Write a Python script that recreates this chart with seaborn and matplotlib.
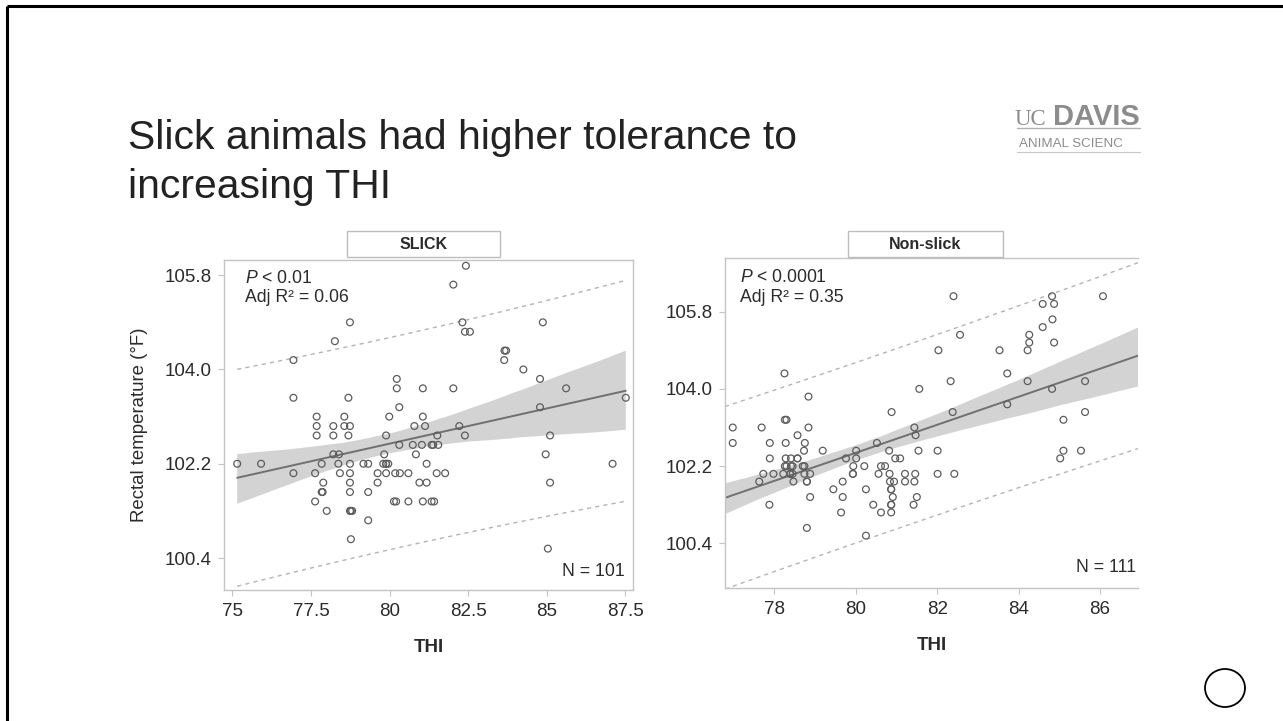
import numpy as np
import pandas as pd
import matplotlib
matplotlib.use("Agg")
import matplotlib.pyplot as plt
from matplotlib.patches import Rectangle, Ellipse
from matplotlib.lines import Line2D
from matplotlib.collections import PolyCollection
import seaborn as sns

# ---------------- data ----------------
slick_thi = [78.74, 78.26, 76.94, 80.23, 80.23, 81.06, 76.94, 78.69, 80.31, 77.68,
             78.56, 79.99, 81.06, 77.68, 78.21, 78.56, 78.74, 80.79, 81.13, 77.68,
             78.21, 78.69, 79.89, 80.31, 80.74, 81.03, 81.34, 78.21, 78.39, 79.83,
             80.84, 75.15, 75.91, 77.84, 78.37, 78.74, 79.17, 79.32, 79.80, 79.89,
             79.96, 81.18, 76.94, 77.63, 78.42, 78.74, 79.62, 79.89, 80.18, 80.33,
             80.60, 80.95, 81.18, 77.89, 78.74, 79.62, 77.84, 77.87, 78.74, 79.32,
             77.63, 80.14, 80.21, 80.60, 81.06, 81.34, 78.00, 78.74, 78.81, 79.32,
             78.77, 82.43, 82.03, 82.32, 82.40, 82.56, 84.88, 83.66, 83.71, 83.65,
             84.26, 84.79, 82.03, 85.62, 87.52, 84.79, 82.22, 81.52, 82.40, 85.11,
             81.39, 81.55, 84.97, 87.10, 81.50, 81.77, 85.11, 81.42, 85.04, 79.89,
             78.77]
slick_rt = [104.90, 104.54, 104.18, 103.82, 103.64, 103.64, 103.46, 103.46, 103.28, 103.10,
            103.10, 103.10, 103.10, 102.92, 102.92, 102.92, 102.92, 102.92, 102.92, 102.74,
            102.74, 102.74, 102.74, 102.56, 102.56, 102.56, 102.56, 102.38, 102.38, 102.38,
            102.38, 102.20, 102.20, 102.20, 102.20, 102.20, 102.20, 102.20, 102.20, 102.20,
            102.20, 102.20, 102.02, 102.02, 102.02, 102.02, 102.02, 102.02, 102.02, 102.02,
            102.02, 101.84, 101.84, 101.84, 101.84, 101.84, 101.66, 101.66, 101.66, 101.66,
            101.48, 101.48, 101.48, 101.48, 101.48, 101.48, 101.30, 101.30, 101.30, 101.12,
            100.76, 105.98, 105.62, 104.90, 104.72, 104.72, 104.90, 104.36, 104.36, 104.18,
            104.00, 103.82, 103.64, 103.64, 103.46, 103.28, 102.92, 102.74, 102.74, 102.74,
            102.56, 102.56, 102.38, 102.20, 102.02, 102.02, 101.84, 101.48, 100.58, 102.20,
            101.30]

nonslick_thi = [78.25, 78.84, 78.26, 78.30, 80.88, 76.98, 77.69, 78.84, 81.44, 78.57,
                76.98, 77.89, 78.28, 78.75, 80.52, 78.73, 79.19, 80.01, 80.82, 77.89,
                78.28, 78.41, 78.57, 79.76, 80.01, 80.97, 81.09, 78.26, 78.41, 78.70,
                79.94, 80.21, 80.62, 80.72, 77.73, 77.98, 78.22, 78.39, 78.45, 78.74,
                78.88, 79.93, 80.56, 80.83, 81.21, 81.46, 77.63, 78.47, 78.80, 79.68,
                80.84, 80.94, 81.21, 81.44, 79.45, 80.25, 80.87, 78.88, 79.68, 80.91,
                81.50, 77.88, 80.43, 80.87, 81.42, 79.64, 80.62, 80.87, 78.80, 80.25,
                82.40, 84.82, 86.07, 84.59, 84.87, 84.83, 84.59, 82.56, 84.26, 84.26,
                84.87, 82.03, 83.53, 84.22, 83.72, 81.56, 82.33, 84.22, 84.82, 85.63,
                82.38, 83.72, 85.63, 85.10, 81.47, 81.54, 82.01, 85.10, 85.53, 85.02,
                82.01, 82.42, 78.39, 78.45, 78.57, 78.30, 79.93, 80.87, 80.87, 78.80,
                78.74]
nonslick_rt = [104.36, 103.82, 103.28, 103.28, 103.46, 103.10, 103.10, 103.10, 103.10, 102.92,
               102.74, 102.74, 102.74, 102.74, 102.74, 102.56, 102.56, 102.56, 102.56, 102.38,
               102.38, 102.38, 102.38, 102.38, 102.38, 102.38, 102.38, 102.20, 102.20, 102.20,
               102.20, 102.20, 102.20, 102.20, 102.02, 102.02, 102.02, 102.02, 102.02, 102.02,
               102.02, 102.02, 102.02, 102.02, 102.02, 102.02, 101.84, 101.84, 101.84, 101.84,
               101.84, 101.84, 101.84, 101.84, 101.66, 101.66, 101.66, 101.48, 101.48, 101.48,
               101.48, 101.30, 101.30, 101.30, 101.30, 101.12, 101.12, 101.12, 100.76, 100.58,
               106.16, 106.16, 106.16, 105.98, 105.98, 105.62, 105.44, 105.26, 105.26, 105.08,
               105.08, 104.90, 104.90, 104.90, 104.36, 104.00, 104.18, 104.18, 104.00, 104.18,
               103.46, 103.64, 103.46, 103.28, 102.92, 102.56, 102.56, 102.56, 102.56, 102.38,
               102.02, 102.02, 102.02, 102.20, 102.38, 102.20, 102.02, 101.66, 101.30, 101.84,
               102.20]

panel_titles = ["SLICK", "Non-slick"]
p_texts = ["< 0.01", "< 0.0001"]
r2_texts = ["0.06", "0.35"]
n_texts = ["N = 101", "N = 111"]
y_ticks = [100.4, 102.2, 104.0, 105.8]
y_ticklabels = ["100.4", "102.2", "104.0", "105.8"]
slick_xticks = [75, 77.5, 80, 82.5, 85, 87.5]
slick_xticklabels = ["75", "77.5", "80", "82.5", "85", "87.5"]
nonslick_xticks = [78, 80, 82, 84, 86]
nonslick_xticklabels = ["78", "80", "82", "84", "86"]
title_lines = ["Slick animals had higher tolerance to", "increasing THI"]
x_label = "THI"
y_label = "Rectal temperature (°F)"

# ---------------- style ----------------
sns.set_theme(style="white")
plt.rcParams["font.family"] = ["Liberation Sans", "DejaVu Sans"]
plt.rcParams["mathtext.fontset"] = "custom"
plt.rcParams["mathtext.rm"] = "Liberation Sans"
plt.rcParams["mathtext.it"] = "Liberation Sans:italic"

W, H = 1283, 721
fig = plt.figure(figsize=(W / 100, H / 100), dpi=100)
fig.patch.set_facecolor("white")


def fx(px):
    return px / W


def fy(py):
    return 1 - py / H


SPINE = "#c4c4c4"
TXT = "#2b2b2b"
PT = "#5c5c5c"
LINE = "#707070"
BAND = "#d3d3d3"
DASH = "#b4b4b4"


def panel(rect, thi, rt, xlim, ylim, xticks, xticklabels, truncate):
    ax = fig.add_axes(rect)
    ax.set_xlim(xlim)
    ax.set_ylim(ylim)
    df = pd.DataFrame({"THI": thi, "RT": rt})
    sns.regplot(data=df, x="THI", y="RT", ax=ax, ci=95, n_boot=2000, seed=11,
                truncate=truncate, color=LINE,
                scatter_kws=dict(s=24, facecolors="none", edgecolors=PT,
                                 linewidths=0.9, alpha=1, zorder=3),
                line_kws=dict(color=LINE, lw=1.4, zorder=2))
    for c in ax.collections:
        if isinstance(c, PolyCollection):
            c.set_facecolor(BAND)
            c.set_alpha(1)
            c.set_edgecolor("none")
            c.set_zorder(1)
    # 95% prediction limits computed from the same data
    xv = np.asarray(thi, float)
    yv = np.asarray(rt, float)
    n = len(xv)
    b1, b0 = np.polyfit(xv, yv, 1)
    s = np.sqrt(((yv - (b0 + b1 * xv)) ** 2).sum() / (n - 2))
    lo, hi = (xv.min(), xv.max()) if truncate else xlim
    xg = np.linspace(lo, hi, 100)
    se = s * np.sqrt(1 + 1 / n + (xg - xv.mean()) ** 2 / ((xv - xv.mean()) ** 2).sum())
    t = 1.984
    yhat = b0 + b1 * xg
    for sign in (1, -1):
        ax.plot(xg, yhat + sign * t * se, ls=(0, (3, 3)), color=DASH, lw=1.0, zorder=2)
    ax.set_xlim(xlim)
    ax.set_ylim(ylim)
    ax.set_xticks(xticks)
    ax.set_xticklabels(xticklabels)
    ax.set_yticks(y_ticks)
    ax.set_yticklabels(y_ticklabels)
    ax.tick_params(axis="both", which="both", length=4, width=0.8, color=SPINE,
                   labelsize=13.5, labelcolor=TXT, pad=5, bottom=True, left=True)
    for sp in ax.spines.values():
        sp.set_color(SPINE)
        sp.set_linewidth(1.0)
    ax.set_xlabel(x_label, fontsize=13.5, fontweight="bold", color=TXT, labelpad=14)
    ax.set_ylabel("")
    return ax


ax1 = panel([fx(224), fy(590), (633 - 224) / W, 330 / H], slick_thi, slick_rt,
            (74.73, 87.75), (99.79, 106.09), slick_xticks, slick_xticklabels, True)
ax2 = panel([fx(725), fy(588), (1138 - 725) / W, 330 / H], nonslick_thi, nonslick_rt,
            (76.79, 86.93), (99.36, 107.05), nonslick_xticks, nonslick_xticklabels, False)
ax2.spines["right"].set_visible(False)

ax1.set_ylabel(y_label, fontsize=13.4, color=TXT, labelpad=12)

# stats annotations
for ax, xp, yp1, yp2, pt, r2, nt, xn, yn in [
        (ax1, 0.051, 0.945, 0.885, p_texts[0], r2_texts[0], n_texts[0], 0.98, 0.055),
        (ax2, 0.036, 0.94, 0.88, p_texts[1], r2_texts[1], n_texts[1], 0.995, 0.061)]:
    ax.text(xp, yp1, r"$\mathit{P}$ " + pt, transform=ax.transAxes, fontsize=12.7,
            color=TXT, va="center", ha="left")
    ax.text(xp, yp2, "Adj R² = " + r2, transform=ax.transAxes, fontsize=12.7,
            color=TXT, va="center", ha="left")
    ax.text(xn, yn, nt, transform=ax.transAxes, fontsize=12.7, color=TXT,
            va="center", ha="right")

# strip title boxes
for (x0, x1), label in zip([(347, 500), (848, 1003)], panel_titles):
    fig.add_artist(Rectangle((fx(x0), fy(257)), (x1 - x0) / W, 26 / H,
                             transform=fig.transFigure, facecolor="white",
                             edgecolor="#bdbdbd", lw=1.0))
    fig.text(fx((x0 + x1) / 2), fy(244), label, ha="center", va="center",
             fontsize=11.5, fontweight="bold", color=TXT)

# slide title
fig.text(fx(128), fy(149), title_lines[0], fontsize=29.4, color="#222222",
         ha="left", va="baseline")
fig.text(fx(128), fy(198), title_lines[1], fontsize=29.4, color="#222222",
         ha="left", va="baseline")

# logo (text rendition)
LOGO = "#8c8c8c"
fig.text(fx(1015), fy(125), "UC", fontsize=16.5, color=LOGO, family="Liberation Serif",
         ha="left", va="baseline")
fig.text(fx(1140), fy(125), "DAVIS", fontsize=21, color=LOGO, fontweight="bold",
         ha="right", va="baseline")
fig.text(fx(1019), fy(147), "ANIMAL SCIENC", fontsize=9.6, color=LOGO,
         ha="left", va="baseline")
fig.add_artist(Line2D([fx(1017), fx(1140)], [fy(128), fy(128)], color="#b0b0b0",
                      lw=1.0, transform=fig.transFigure))
fig.add_artist(Line2D([fx(1017), fx(1140)], [fy(152), fy(152)], color="#c8c8c8",
                      lw=0.8, transform=fig.transFigure))

# slide frame and nav circle
fig.add_artist(Line2D([fx(7), fx(W)], [fy(6), fy(6)], color="black", lw=2.2,
                      transform=fig.transFigure, solid_capstyle="butt"))
fig.add_artist(Line2D([fx(7), fx(7)], [fy(6), fy(H)], color="black", lw=2.2,
                      transform=fig.transFigure, solid_capstyle="butt"))
fig.add_artist(Ellipse((fx(1225), fy(688)), 40 / W, 38 / H, transform=fig.transFigure,
                       facecolor="none", edgecolor="black", lw=1.3))

fig.savefig("out.png", dpi=100, facecolor="white")
